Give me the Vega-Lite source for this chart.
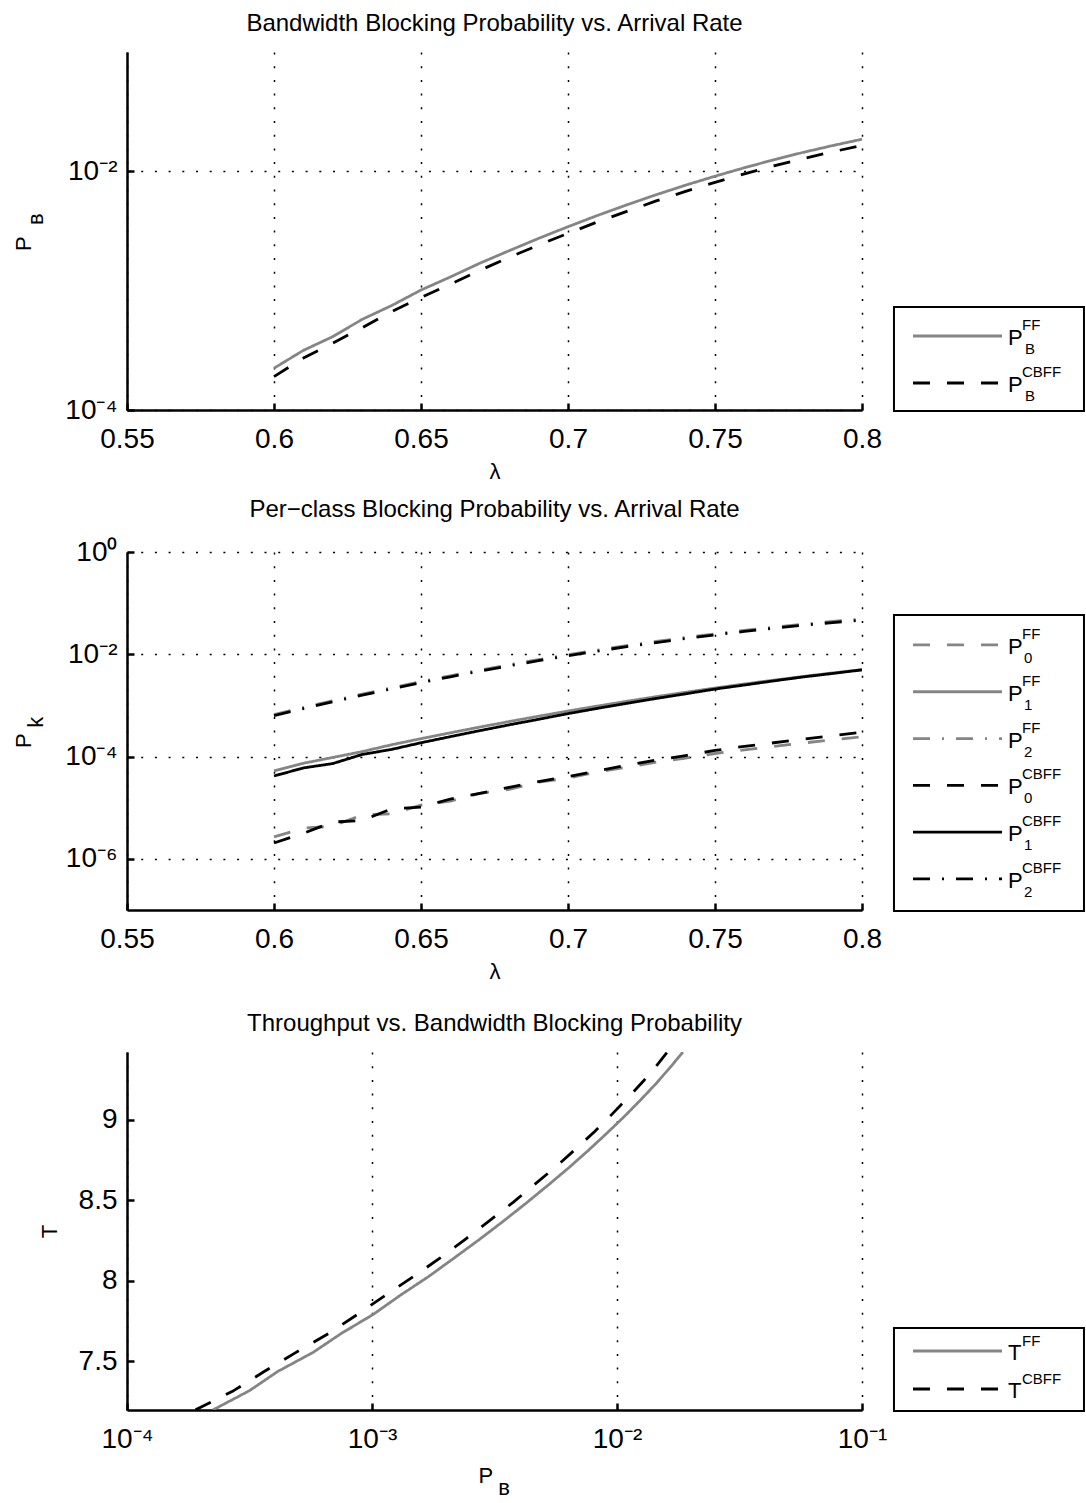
{
  "$schema": "https://vega.github.io/schema/vega-lite/v6.json",
  "background": "white",
  "padding": {"left": 12, "top": 12, "right": 0, "bottom": 0},
  "config": {
    "font": "Liberation Sans",
    "view": {"stroke": null},
    "title": {"font": "Liberation Sans", "fontSize": 24, "fontWeight": "normal", "color": "black", "offset": 16, "baseline": "alphabetic"},
    "axis": {
      "domainColor": "black", "domainWidth": 2.5,
      "tickColor": "black", "tickWidth": 2.5, "tickSize": -7,
      "labelColor": "black", "labelFontSize": 28, "labelFont": "Liberation Sans",
      "labelFlush": false, "labelOverlap": false,
      "titleColor": "black", "titleFontSize": 22, "titleFontWeight": "normal", "titleFont": "Liberation Sans",
      "titleLineHeight": 12,
      "gridColor": "black", "gridOpacity": 1, "gridWidth": 1.5, "gridDash": [2, 11.7]
    },
    "axisX": {"labelPadding": 22, "titlePadding": 8},
    "axisY": {"labelPadding": 17, "titlePadding": 17}
  },
  "resolve": {"scale": {"color": "independent", "strokeDash": "independent"}},
  "datasets": {
    "pb": [
      {"l":0.60,"v":2.24e-4,"s":"FF"},{"l":0.61,"v":3.16e-4,"s":"FF"},{"l":0.62,"v":4.12e-4,"s":"FF"},{"l":0.63,"v":5.75e-4,"s":"FF"},{"l":0.64,"v":7.50e-4,"s":"FF"},{"l":0.65,"v":1.012e-3,"s":"FF"},{"l":0.66,"v":1.303e-3,"s":"FF"},{"l":0.67,"v":1.698e-3,"s":"FF"},{"l":0.68,"v":2.163e-3,"s":"FF"},{"l":0.69,"v":2.742e-3,"s":"FF"},{"l":0.70,"v":3.436e-3,"s":"FF"},{"l":0.71,"v":4.266e-3,"s":"FF"},{"l":0.72,"v":5.236e-3,"s":"FF"},{"l":0.73,"v":6.368e-3,"s":"FF"},{"l":0.74,"v":7.656e-3,"s":"FF"},{"l":0.75,"v":9.099e-3,"s":"FF"},{"l":0.76,"v":1.072e-2,"s":"FF"},{"l":0.77,"v":1.250e-2,"s":"FF"},{"l":0.78,"v":1.442e-2,"s":"FF"},{"l":0.79,"v":1.644e-2,"s":"FF"},{"l":0.80,"v":1.858e-2,"s":"FF"},
      {"l":0.60,"v":1.905e-4,"s":"CBFF"},{"l":0.61,"v":2.723e-4,"s":"CBFF"},{"l":0.62,"v":3.631e-4,"s":"CBFF"},{"l":0.63,"v":4.898e-4,"s":"CBFF"},{"l":0.64,"v":6.683e-4,"s":"CBFF"},{"l":0.65,"v":8.75e-4,"s":"CBFF"},{"l":0.66,"v":1.135e-3,"s":"CBFF"},{"l":0.67,"v":1.479e-3,"s":"CBFF"},{"l":0.68,"v":1.905e-3,"s":"CBFF"},{"l":0.69,"v":2.41e-3,"s":"CBFF"},{"l":0.70,"v":3.02e-3,"s":"CBFF"},{"l":0.71,"v":3.767e-3,"s":"CBFF"},{"l":0.72,"v":4.613e-3,"s":"CBFF"},{"l":0.73,"v":5.649e-3,"s":"CBFF"},{"l":0.74,"v":6.792e-3,"s":"CBFF"},{"l":0.75,"v":8.091e-3,"s":"CBFF"},{"l":0.76,"v":9.506e-3,"s":"CBFF"},{"l":0.77,"v":1.109e-2,"s":"CBFF"},{"l":0.78,"v":1.279e-2,"s":"CBFF"},{"l":0.79,"v":1.459e-2,"s":"CBFF"},{"l":0.80,"v":1.644e-2,"s":"CBFF"}
    ],
    "pk": [
      {"l":0.60,"v":2.69e-6,"s":"P0FF"},{"l":0.61,"v":3.98e-6,"s":"P0FF"},{"l":0.62,"v":4.37e-6,"s":"P0FF"},{"l":0.63,"v":7.24e-6,"s":"P0FF"},{"l":0.64,"v":7.59e-6,"s":"P0FF"},{"l":0.65,"v":1.122e-5,"s":"P0FF"},{"l":0.66,"v":1.349e-5,"s":"P0FF"},{"l":0.67,"v":1.905e-5,"s":"P0FF"},{"l":0.68,"v":2.291e-5,"s":"P0FF"},{"l":0.69,"v":3.162e-5,"s":"P0FF"},{"l":0.70,"v":3.802e-5,"s":"P0FF"},{"l":0.71,"v":5.012e-5,"s":"P0FF"},{"l":0.72,"v":6.166e-5,"s":"P0FF"},{"l":0.73,"v":7.762e-5,"s":"P0FF"},{"l":0.74,"v":9.333e-5,"s":"P0FF"},{"l":0.75,"v":1.148e-4,"s":"P0FF"},{"l":0.76,"v":1.349e-4,"s":"P0FF"},{"l":0.77,"v":1.585e-4,"s":"P0FF"},{"l":0.78,"v":1.841e-4,"s":"P0FF"},{"l":0.79,"v":2.138e-4,"s":"P0FF"},{"l":0.80,"v":2.427e-4,"s":"P0FF"},
      {"l":0.60,"v":5.25e-5,"s":"P1FF"},{"l":0.61,"v":7.4e-5,"s":"P1FF"},{"l":0.62,"v":9.62e-5,"s":"P1FF"},{"l":0.63,"v":1.25e-4,"s":"P1FF"},{"l":0.64,"v":1.702e-4,"s":"P1FF"},{"l":0.65,"v":2.239e-4,"s":"P1FF"},{"l":0.66,"v":2.917e-4,"s":"P1FF"},{"l":0.67,"v":3.776e-4,"s":"P1FF"},{"l":0.68,"v":4.842e-4,"s":"P1FF"},{"l":0.69,"v":6.152e-4,"s":"P1FF"},{"l":0.70,"v":7.762e-4,"s":"P1FF"},{"l":0.71,"v":9.705e-4,"s":"P1FF"},{"l":0.72,"v":1.205e-3,"s":"P1FF"},{"l":0.73,"v":1.483e-3,"s":"P1FF"},{"l":0.74,"v":1.807e-3,"s":"P1FF"},{"l":0.75,"v":2.188e-3,"s":"P1FF"},{"l":0.76,"v":2.624e-3,"s":"P1FF"},{"l":0.77,"v":3.126e-3,"s":"P1FF"},{"l":0.78,"v":3.69e-3,"s":"P1FF"},{"l":0.79,"v":4.315e-3,"s":"P1FF"},{"l":0.80,"v":5.012e-3,"s":"P1FF"},
      {"l":0.60,"v":6.61e-4,"s":"P2FF"},{"l":0.61,"v":9.08e-4,"s":"P2FF"},{"l":0.62,"v":1.236e-3,"s":"P2FF"},{"l":0.63,"v":1.663e-3,"s":"P2FF"},{"l":0.64,"v":2.213e-3,"s":"P2FF"},{"l":0.65,"v":2.917e-3,"s":"P2FF"},{"l":0.66,"v":3.802e-3,"s":"P2FF"},{"l":0.67,"v":4.898e-3,"s":"P2FF"},{"l":0.68,"v":6.237e-3,"s":"P2FF"},{"l":0.69,"v":7.862e-3,"s":"P2FF"},{"l":0.70,"v":9.795e-3,"s":"P2FF"},{"l":0.71,"v":1.208e-2,"s":"P2FF"},{"l":0.72,"v":1.476e-2,"s":"P2FF"},{"l":0.73,"v":1.778e-2,"s":"P2FF"},{"l":0.74,"v":2.123e-2,"s":"P2FF"},{"l":0.75,"v":2.506e-2,"s":"P2FF"},{"l":0.76,"v":2.931e-2,"s":"P2FF"},{"l":0.77,"v":3.388e-2,"s":"P2FF"},{"l":0.78,"v":3.868e-2,"s":"P2FF"},{"l":0.79,"v":4.375e-2,"s":"P2FF"},{"l":0.80,"v":4.887e-2,"s":"P2FF"},
      {"l":0.60,"v":2.04e-6,"s":"P0CB"},{"l":0.61,"v":3.16e-6,"s":"P0CB"},{"l":0.62,"v":5.25e-6,"s":"P0CB"},{"l":0.63,"v":5.62e-6,"s":"P0CB"},{"l":0.64,"v":9.55e-6,"s":"P0CB"},{"l":0.65,"v":1.023e-5,"s":"P0CB"},{"l":0.66,"v":1.479e-5,"s":"P0CB"},{"l":0.67,"v":1.905e-5,"s":"P0CB"},{"l":0.68,"v":2.512e-5,"s":"P0CB"},{"l":0.69,"v":3.236e-5,"s":"P0CB"},{"l":0.70,"v":4.074e-5,"s":"P0CB"},{"l":0.71,"v":5.248e-5,"s":"P0CB"},{"l":0.72,"v":6.761e-5,"s":"P0CB"},{"l":0.73,"v":8.511e-5,"s":"P0CB"},{"l":0.74,"v":1.047e-4,"s":"P0CB"},{"l":0.75,"v":1.318e-4,"s":"P0CB"},{"l":0.76,"v":1.585e-4,"s":"P0CB"},{"l":0.77,"v":1.862e-4,"s":"P0CB"},{"l":0.78,"v":2.188e-4,"s":"P0CB"},{"l":0.79,"v":2.57e-4,"s":"P0CB"},{"l":0.80,"v":2.985e-4,"s":"P0CB"},
      {"l":0.60,"v":4.17e-5,"s":"P1CB"},{"l":0.61,"v":6.0e-5,"s":"P1CB"},{"l":0.62,"v":7.3e-5,"s":"P1CB"},{"l":0.63,"v":1.10e-4,"s":"P1CB"},{"l":0.64,"v":1.38e-4,"s":"P1CB"},{"l":0.65,"v":1.863e-4,"s":"P1CB"},{"l":0.66,"v":2.453e-4,"s":"P1CB"},{"l":0.67,"v":3.213e-4,"s":"P1CB"},{"l":0.68,"v":4.169e-4,"s":"P1CB"},{"l":0.69,"v":5.358e-4,"s":"P1CB"},{"l":0.70,"v":6.916e-4,"s":"P1CB"},{"l":0.71,"v":8.754e-4,"s":"P1CB"},{"l":0.72,"v":1.099e-3,"s":"P1CB"},{"l":0.73,"v":1.369e-3,"s":"P1CB"},{"l":0.74,"v":1.686e-3,"s":"P1CB"},{"l":0.75,"v":2.09e-3,"s":"P1CB"},{"l":0.76,"v":2.506e-3,"s":"P1CB"},{"l":0.77,"v":3.02e-3,"s":"P1CB"},{"l":0.78,"v":3.605e-3,"s":"P1CB"},{"l":0.79,"v":4.216e-3,"s":"P1CB"},{"l":0.80,"v":4.957e-3,"s":"P1CB"},
      {"l":0.60,"v":6.31e-4,"s":"P2CB"},{"l":0.61,"v":8.67e-4,"s":"P2CB"},{"l":0.62,"v":1.18e-3,"s":"P2CB"},{"l":0.63,"v":1.588e-3,"s":"P2CB"},{"l":0.64,"v":2.113e-3,"s":"P2CB"},{"l":0.65,"v":2.786e-3,"s":"P2CB"},{"l":0.66,"v":3.631e-3,"s":"P2CB"},{"l":0.67,"v":4.678e-3,"s":"P2CB"},{"l":0.68,"v":5.956e-3,"s":"P2CB"},{"l":0.69,"v":7.508e-3,"s":"P2CB"},{"l":0.70,"v":9.354e-3,"s":"P2CB"},{"l":0.71,"v":1.154e-2,"s":"P2CB"},{"l":0.72,"v":1.41e-2,"s":"P2CB"},{"l":0.73,"v":1.698e-2,"s":"P2CB"},{"l":0.74,"v":2.027e-2,"s":"P2CB"},{"l":0.75,"v":2.393e-2,"s":"P2CB"},{"l":0.76,"v":2.799e-2,"s":"P2CB"},{"l":0.77,"v":3.236e-2,"s":"P2CB"},{"l":0.78,"v":3.694e-2,"s":"P2CB"},{"l":0.79,"v":4.178e-2,"s":"P2CB"},{"l":0.80,"v":4.667e-2,"s":"P2CB"}
    ],
    "tp": [
      {"p":2.24e-4,"t":7.198,"s":"FF"},{"p":3.16e-4,"t":7.318,"s":"FF"},{"p":4.12e-4,"t":7.437,"s":"FF"},{"p":5.75e-4,"t":7.556,"s":"FF"},{"p":7.50e-4,"t":7.674,"s":"FF"},{"p":1.012e-3,"t":7.792,"s":"FF"},{"p":1.303e-3,"t":7.910,"s":"FF"},{"p":1.698e-3,"t":8.026,"s":"FF"},{"p":2.163e-3,"t":8.142,"s":"FF"},{"p":2.742e-3,"t":8.257,"s":"FF"},{"p":3.436e-3,"t":8.371,"s":"FF"},{"p":4.266e-3,"t":8.484,"s":"FF"},{"p":5.236e-3,"t":8.595,"s":"FF"},{"p":6.368e-3,"t":8.704,"s":"FF"},{"p":7.656e-3,"t":8.812,"s":"FF"},{"p":9.099e-3,"t":8.918,"s":"FF"},{"p":1.072e-2,"t":9.022,"s":"FF"},{"p":1.250e-2,"t":9.125,"s":"FF"},{"p":1.442e-2,"t":9.225,"s":"FF"},{"p":1.644e-2,"t":9.324,"s":"FF"},{"p":1.858e-2,"t":9.422,"s":"FF"},
      {"p":1.905e-4,"t":7.199,"s":"CBFF"},{"p":2.723e-4,"t":7.318,"s":"CBFF"},{"p":3.631e-4,"t":7.437,"s":"CBFF"},{"p":4.898e-4,"t":7.556,"s":"CBFF"},{"p":6.683e-4,"t":7.675,"s":"CBFF"},{"p":8.75e-4,"t":7.793,"s":"CBFF"},{"p":1.135e-3,"t":7.911,"s":"CBFF"},{"p":1.479e-3,"t":8.028,"s":"CBFF"},{"p":1.905e-3,"t":8.144,"s":"CBFF"},{"p":2.41e-3,"t":8.260,"s":"CBFF"},{"p":3.02e-3,"t":8.375,"s":"CBFF"},{"p":3.767e-3,"t":8.488,"s":"CBFF"},{"p":4.613e-3,"t":8.600,"s":"CBFF"},{"p":5.649e-3,"t":8.711,"s":"CBFF"},{"p":6.792e-3,"t":8.820,"s":"CBFF"},{"p":8.091e-3,"t":8.927,"s":"CBFF"},{"p":9.506e-3,"t":9.033,"s":"CBFF"},{"p":1.109e-2,"t":9.138,"s":"CBFF"},{"p":1.279e-2,"t":9.240,"s":"CBFF"},{"p":1.459e-2,"t":9.342,"s":"CBFF"},{"p":1.644e-2,"t":9.442,"s":"CBFF"}
    ],
    "leg1": [{"s":"FF","b":"P","sup":"FF","sub":"B"},{"s":"CBFF","b":"P","sup":"CBFF","sub":"B"}],
    "leg2": [{"s":"P0FF","b":"P","sup":"FF","sub":"0"},{"s":"P1FF","b":"P","sup":"FF","sub":"1"},{"s":"P2FF","b":"P","sup":"FF","sub":"2"},{"s":"P0CB","b":"P","sup":"CBFF","sub":"0"},{"s":"P1CB","b":"P","sup":"CBFF","sub":"1"},{"s":"P2CB","b":"P","sup":"CBFF","sub":"2"}],
    "leg3": [{"s":"FF","b":"T","sup":"FF","sub":""},{"s":"CBFF","b":"T","sup":"CBFF","sub":""}]
  },
  "vconcat": [
    {
      "title": {"text": "Bandwidth Blocking Probability vs. Arrival Rate"},
      "width": 735, "height": 358,
      "resolve": {"scale": {"x": "independent", "y": "independent"}},
      "layer": [
        {
          "data": {"name": "pb"},
          "mark": {"type": "line", "clip": true, "strokeWidth": 2.8, "strokeJoin": "round"},
          "encoding": {
            "x": {"field": "l", "type": "quantitative", "scale": {"domain": [0.55, 0.8], "nice": false, "zero": false}, "axis": {"values": [0.55, 0.6, 0.65, 0.7, 0.75, 0.8], "format": "~g", "title": "λ", "grid": true}},
            "y": {"field": "v", "type": "quantitative", "scale": {"type": "log", "domain": [0.0001, 0.1], "nice": false}, "axis": {"values": [0.0001, 0.01], "labelExpr": "datum.value < 0.001 ? '10⁻⁴' : '10⁻²'", "title": ["P\u00a0\u00a0\u00a0\u00a0\u200b", "\u200b\u00a0\u00a0\u00a0\u00a0ʙ"], "grid": true}},
            "color": {"field": "s", "type": "nominal", "scale": {"domain": ["FF", "CBFF"], "range": ["#858585", "#000000"]}, "legend": null},
            "strokeDash": {"field": "s", "type": "nominal", "scale": {"domain": ["FF", "CBFF"], "range": [[1, 0], [17, 17]]}, "legend": null}
          }
        },
        {
          "data": {"values": [{}]},
          "mark": {"type": "rect", "fill": "white", "stroke": "black", "strokeWidth": 2},
          "encoding": {
            "x": {"datum": 1.0435, "type": "quantitative", "scale": {"domain": [0, 1], "nice": false, "zero": false}, "axis": null},
            "x2": {"datum": 1.302},
            "y": {"datum": 0.7123, "type": "quantitative", "scale": {"domain": [0, 1], "reverse": true, "nice": false, "zero": false}, "axis": null},
            "y2": {"datum": 1.003}
          }
        },
        {
          "data": {"name": "leg1"},
          "encoding": {
            "y": {"field": "s", "type": "nominal", "scale": {"type": "point", "domain": ["d1", "d2", "d3", "d4", "d5", "FF", "CBFF"], "padding": 0.8085, "align": 0.645}, "axis": null}
          },
          "layer": [
            {"mark": {"type": "rule", "strokeWidth": 2.8}, "encoding": {
              "x": {"datum": 1.0694, "type": "quantitative", "scale": {"domain": [0, 1], "nice": false, "zero": false}, "axis": null},
              "x2": {"datum": 1.1905},
              "color": {"field": "s", "type": "nominal", "scale": {"domain": ["FF", "CBFF"], "range": ["#858585", "#000000"]}, "legend": null},
              "strokeDash": {"field": "s", "type": "nominal", "scale": {"domain": ["FF", "CBFF"], "range": [[1, 0], [17, 17]]}, "legend": null}
            }},
            {"mark": {"type": "text", "fontSize": 22, "align": "left", "baseline": "middle", "dy": 2, "color": "black"}, "encoding": {
              "x": {"datum": 1.1986, "type": "quantitative", "scale": {"domain": [0, 1], "nice": false, "zero": false}, "axis": null},
              "text": {"field": "b"}}},
            {"mark": {"type": "text", "fontSize": 15, "align": "left", "baseline": "middle", "dx": 14, "dy": -11, "color": "black"}, "encoding": {
              "x": {"datum": 1.1986, "type": "quantitative", "scale": {"domain": [0, 1], "nice": false, "zero": false}, "axis": null},
              "text": {"field": "sup"}}},
            {"mark": {"type": "text", "fontSize": 15, "align": "left", "baseline": "middle", "dx": 17, "dy": 13, "color": "black"}, "encoding": {
              "x": {"datum": 1.1986, "type": "quantitative", "scale": {"domain": [0, 1], "nice": false, "zero": false}, "axis": null},
              "text": {"field": "sub"}}}
          ]
        }
      ]
    },
    {
      "title": {"text": "Per−class Blocking Probability vs. Arrival Rate"},
      "width": 735, "height": 358,
      "resolve": {"scale": {"x": "independent", "y": "independent"}},
      "layer": [
        {
          "data": {"name": "pk"},
          "mark": {"type": "line", "clip": true, "strokeWidth": 2.8, "strokeJoin": "round"},
          "encoding": {
            "x": {"field": "l", "type": "quantitative", "scale": {"domain": [0.55, 0.8], "nice": false, "zero": false}, "axis": {"values": [0.55, 0.6, 0.65, 0.7, 0.75, 0.8], "format": "~g", "title": "λ", "grid": true}},
            "y": {"field": "v", "type": "quantitative", "scale": {"type": "log", "domain": [1e-7, 1], "nice": false}, "axis": {"values": [0.000001, 0.0001, 0.01, 1], "labelExpr": "datum.value < 0.00001 ? '10⁻⁶' : datum.value < 0.001 ? '10⁻⁴' : datum.value < 0.1 ? '10⁻²' : '10⁰'", "title": ["P\u00a0\u00a0\u00a0\u200b", "\u200b\u00a0\u00a0\u00a0k"], "grid": true}},
            "color": {"field": "s", "type": "nominal", "scale": {"domain": ["P0FF", "P1FF", "P2FF", "P0CB", "P1CB", "P2CB"], "range": ["#858585", "#858585", "#858585", "#000000", "#000000", "#000000"]}, "legend": null},
            "strokeDash": {"field": "s", "type": "nominal", "scale": {"domain": ["P0FF", "P1FF", "P2FF", "P0CB", "P1CB", "P2CB"], "range": [[17, 17], [1, 0], [17, 12, 2, 12], [17, 17], [1, 0], [17, 12, 2, 12]]}, "legend": null}
          }
        },
        {
          "data": {"values": [{}]},
          "mark": {"type": "rect", "fill": "white", "stroke": "black", "strokeWidth": 2},
          "encoding": {
            "x": {"datum": 1.0435, "type": "quantitative", "scale": {"domain": [0, 1], "nice": false, "zero": false}, "axis": null},
            "x2": {"datum": 1.302},
            "y": {"datum": 0.176, "type": "quantitative", "scale": {"domain": [0, 1], "reverse": true, "nice": false, "zero": false}, "axis": null},
            "y2": {"datum": 1.003}
          }
        },
        {
          "data": {"name": "leg2"},
          "encoding": {
            "y": {"field": "s", "type": "nominal", "scale": {"type": "point", "domain": ["d1", "P0FF", "P1FF", "P2FF", "P0CB", "P1CB", "P2CB"], "padding": 0.825, "align": 0.598}, "axis": null}
          },
          "layer": [
            {"mark": {"type": "rule", "strokeWidth": 2.8}, "encoding": {
              "x": {"datum": 1.0694, "type": "quantitative", "scale": {"domain": [0, 1], "nice": false, "zero": false}, "axis": null},
              "x2": {"datum": 1.1905},
              "color": {"field": "s", "type": "nominal", "scale": {"domain": ["P0FF", "P1FF", "P2FF", "P0CB", "P1CB", "P2CB"], "range": ["#858585", "#858585", "#858585", "#000000", "#000000", "#000000"]}, "legend": null},
              "strokeDash": {"field": "s", "type": "nominal", "scale": {"domain": ["P0FF", "P1FF", "P2FF", "P0CB", "P1CB", "P2CB"], "range": [[17, 17], [1, 0], [17, 12, 2, 12], [17, 17], [1, 0], [17, 12, 2, 12]]}, "legend": null}
            }},
            {"mark": {"type": "text", "fontSize": 22, "align": "left", "baseline": "middle", "dy": 2, "color": "black"}, "encoding": {
              "x": {"datum": 1.1986, "type": "quantitative", "scale": {"domain": [0, 1], "nice": false, "zero": false}, "axis": null},
              "text": {"field": "b"}}},
            {"mark": {"type": "text", "fontSize": 15, "align": "left", "baseline": "middle", "dx": 14, "dy": -11, "color": "black"}, "encoding": {
              "x": {"datum": 1.1986, "type": "quantitative", "scale": {"domain": [0, 1], "nice": false, "zero": false}, "axis": null},
              "text": {"field": "sup"}}},
            {"mark": {"type": "text", "fontSize": 15, "align": "left", "baseline": "middle", "dx": 16, "dy": 13, "color": "black"}, "encoding": {
              "x": {"datum": 1.1986, "type": "quantitative", "scale": {"domain": [0, 1], "nice": false, "zero": false}, "axis": null},
              "text": {"field": "sub"}}}
          ]
        }
      ]
    },
    {
      "title": {"text": "Throughput vs. Bandwidth Blocking Probability"},
      "width": 735, "height": 358,
      "resolve": {"scale": {"x": "independent", "y": "independent"}},
      "layer": [
        {
          "data": {"name": "tp"},
          "mark": {"type": "line", "clip": true, "strokeWidth": 2.8, "strokeJoin": "round"},
          "encoding": {
            "x": {"field": "p", "type": "quantitative", "scale": {"type": "log", "domain": [0.0001, 0.1], "nice": false}, "axis": {"values": [0.0001, 0.001, 0.01, 0.1], "labelExpr": "datum.value < 0.0005 ? '10⁻⁴' : datum.value < 0.005 ? '10⁻³' : datum.value < 0.05 ? '10⁻²' : '10⁻¹'", "title": ["P\u00a0\u00a0\u00a0\u200b", "\u200b\u00a0\u00a0\u00a0ʙ"], "titlePadding": 12, "grid": true}},
            "y": {"field": "t", "type": "quantitative", "scale": {"domain": [7.198, 9.422], "nice": false, "zero": false}, "axis": {"values": [7.5, 8, 8.5, 9], "format": "~g", "title": "T", "grid": false}},
            "color": {"field": "s", "type": "nominal", "scale": {"domain": ["FF", "CBFF"], "range": ["#858585", "#000000"]}, "legend": null},
            "strokeDash": {"field": "s", "type": "nominal", "scale": {"domain": ["FF", "CBFF"], "range": [[1, 0], [17, 17]]}, "legend": null}
          }
        },
        {
          "data": {"values": [{}]},
          "mark": {"type": "rect", "fill": "white", "stroke": "black", "strokeWidth": 2},
          "encoding": {
            "x": {"datum": 1.0435, "type": "quantitative", "scale": {"domain": [0, 1], "nice": false, "zero": false}, "axis": null},
            "x2": {"datum": 1.302},
            "y": {"datum": 0.771, "type": "quantitative", "scale": {"domain": [0, 1], "reverse": true, "nice": false, "zero": false}, "axis": null},
            "y2": {"datum": 1.003}
          }
        },
        {
          "data": {"name": "leg3"},
          "encoding": {
            "y": {"field": "s", "type": "nominal", "scale": {"type": "point", "domain": ["d1", "d2", "d3", "d4", "d5", "d6", "d7", "FF", "CBFF"], "padding": 0.71, "align": 0.611}, "axis": null}
          },
          "layer": [
            {"mark": {"type": "rule", "strokeWidth": 2.8}, "encoding": {
              "x": {"datum": 1.0694, "type": "quantitative", "scale": {"domain": [0, 1], "nice": false, "zero": false}, "axis": null},
              "x2": {"datum": 1.1905},
              "color": {"field": "s", "type": "nominal", "scale": {"domain": ["FF", "CBFF"], "range": ["#858585", "#000000"]}, "legend": null},
              "strokeDash": {"field": "s", "type": "nominal", "scale": {"domain": ["FF", "CBFF"], "range": [[1, 0], [17, 17]]}, "legend": null}
            }},
            {"mark": {"type": "text", "fontSize": 22, "align": "left", "baseline": "middle", "dy": 2, "color": "black"}, "encoding": {
              "x": {"datum": 1.1986, "type": "quantitative", "scale": {"domain": [0, 1], "nice": false, "zero": false}, "axis": null},
              "text": {"field": "b"}}},
            {"mark": {"type": "text", "fontSize": 15, "align": "left", "baseline": "middle", "dx": 14, "dy": -10, "color": "black"}, "encoding": {
              "x": {"datum": 1.1986, "type": "quantitative", "scale": {"domain": [0, 1], "nice": false, "zero": false}, "axis": null},
              "text": {"field": "sup"}}}
          ]
        }
      ]
    }
  ],
  "spacing": 142,
  "bounds": "flush"
}
